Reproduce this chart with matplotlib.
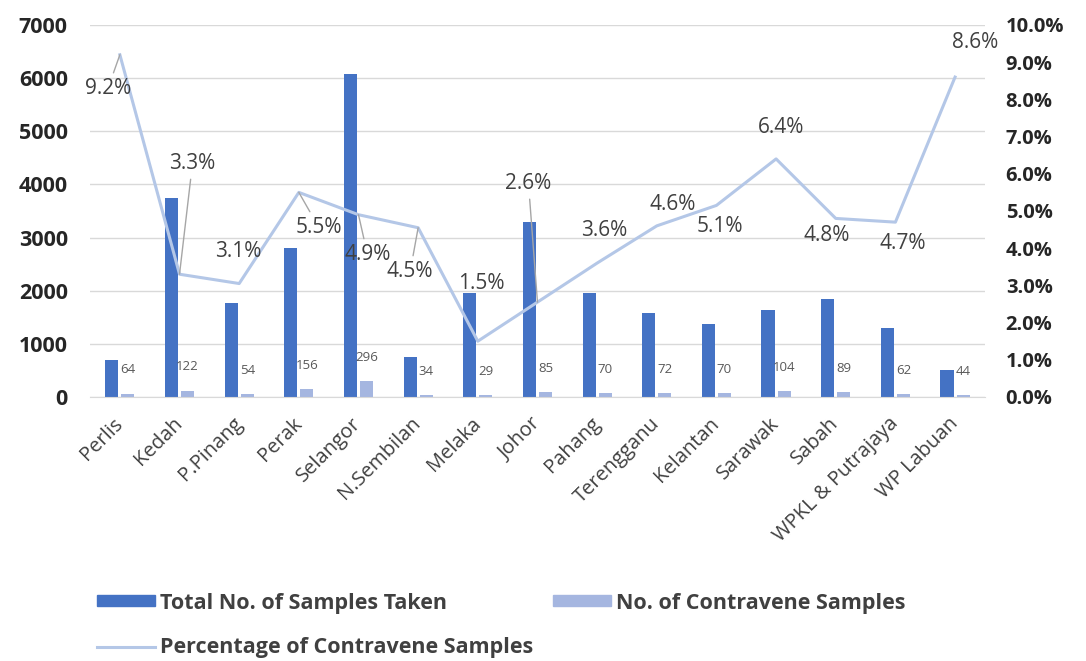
import matplotlib.pyplot as plt
from matplotlib.patches import Patch
from matplotlib.lines import Line2D
from matplotlib.ticker import FuncFormatter, MultipleLocator

states = ["Perlis", "Kedah", "P.Pinang", "Perak", "Selangor", "N.Sembilan",
          "Melaka", "Johor", "Pahang", "Terengganu", "Kelantan", "Sarawak",
          "Sabah", "WPKL & Putrajaya", "WP Labuan"]
total_samples = [700, 3750, 1770, 2810, 6070, 750, 1960, 3300, 1960, 1580,
                 1375, 1640, 1845, 1300, 510]
contravene = [64, 122, 54, 156, 296, 34, 29, 85, 70, 72, 70, 104, 89, 62, 44]
pct_labels = [9.2, 3.3, 3.1, 5.5, 4.9, 4.5, 1.5, 2.6, 3.6, 4.6, 5.1, 6.4,
              4.8, 4.7, 8.6]
pct_line = [9.2, 3.3, 3.05, 5.5, 4.9, 4.55, 1.5, 2.55, 3.6, 4.6, 5.15, 6.4,
            4.8, 4.7, 8.6]

# label placement (pixel offsets from the point, y up) and leader lines
pct_offsets = [(-12, -34), (13, 111), (-1, 32), (20, -35), (9, -40),
               (-8, -44), (4, 58), (-9, 119), (7, 33), (16, 21),
               (3, -21), (5, 31), (-9, -17), (7, -21), (20, 35)]
leaders = [True, True, False, True, True, True, False, True, False, False,
           False, False, False, False, False]

DARK = "#404040"
BLUE = "#4472c4"
LIGHT = "#a5b6e0"
LINE = "#b4c7e7"

plt.rcParams["font.family"] = ["Open Sans", "DejaVu Sans"]

fig = plt.figure(figsize=(10.86, 6.61), dpi=100)
ax = fig.add_axes([0.0829, 0.3994, 0.824, 0.5628])
ax2 = ax.twinx()

x = list(range(len(states)))
w = 0.22
ax.bar([i - 0.135 for i in x], total_samples, width=w, color=BLUE, zorder=2)
ax.bar([i + 0.135 for i in x], contravene, width=w, color=LIGHT, zorder=2)

for i, v in enumerate(contravene):
    ax.annotate(str(v), (i + 0.135, v), xytext=(0, 17), textcoords="offset points",
                ha="center", va="center", fontsize=9.5, color="#595959")

ax.set_xlim(-0.5, len(states) - 0.5)
ax.set_ylim(0, 7000)
ax.yaxis.set_major_locator(MultipleLocator(1000))
ax.grid(axis="y", color="#d9d9d9", lw=1, zorder=0)
ax.set_axisbelow(True)
for s in ["left", "right", "top"]:
    ax.spines[s].set_visible(False)
    ax2.spines[s].set_visible(False)
ax.spines["bottom"].set_color("#d9d9d9")
ax2.spines["bottom"].set_visible(False)

ax.set_xticks(x)
ax.set_xticklabels(states, rotation=45, ha="right", va="center",
                   rotation_mode="anchor", fontsize=14.5, color=DARK)
ax.tick_params(axis="x", length=0, pad=17)
ax.tick_params(axis="y", length=0, pad=16, labelsize=15.5, labelcolor="#262626")
for t in ax.get_yticklabels():
    t.set_fontweight("bold")

pct = [p / 100 for p in pct_line]
ax2.plot(x, pct, color=LINE, lw=2.2, zorder=3)
ax2.set_ylim(0, 0.10)
ax2.yaxis.set_major_locator(MultipleLocator(0.01))
ax2.yaxis.set_major_formatter(FuncFormatter(lambda v, _: f"{v * 100:.1f}%"))
ax2.tick_params(axis="y", length=0, pad=15, labelsize=14.5, labelcolor="#262626")
for t in ax2.get_yticklabels():
    t.set_fontweight("bold")

for i, (lab, off, lead) in enumerate(zip(pct_labels, pct_offsets, leaders)):
    props = dict(arrowstyle="-", color="#a6a6a6", lw=1, shrinkA=2, shrinkB=0) if lead else None
    ax2.annotate(f"{lab}%", (i, pct[i]), xytext=(off[0] * 0.72, off[1] * 0.72),
                 textcoords="offset points", ha="center", va="center",
                 fontsize=15, color=DARK, arrowprops=props, zorder=4)

# legend entries placed one by one: (handle, text, x, y) in figure fractions
legend_items = [
    (Patch(color=BLUE), "Total No. of Samples Taken", 0.0893, 0.0877),
    (Patch(color=LIGHT), "No. of Contravene Samples", 0.509, 0.0877),
    (Line2D([], [], color=LINE, lw=2.2), "Percentage of Contravene Samples", 0.0893, 0.0197),
]
for h, txt, lx, ly in legend_items:
    leg = fig.legend([h], [txt], loc="center left", bbox_to_anchor=(lx, ly),
                     frameon=False, borderpad=0, borderaxespad=0,
                     handlelength=2.7, handleheight=0.42, handletextpad=0.25,
                     prop=dict(weight="bold", size=15.5), labelcolor=DARK)

fig.savefig("out.png", dpi=100)
